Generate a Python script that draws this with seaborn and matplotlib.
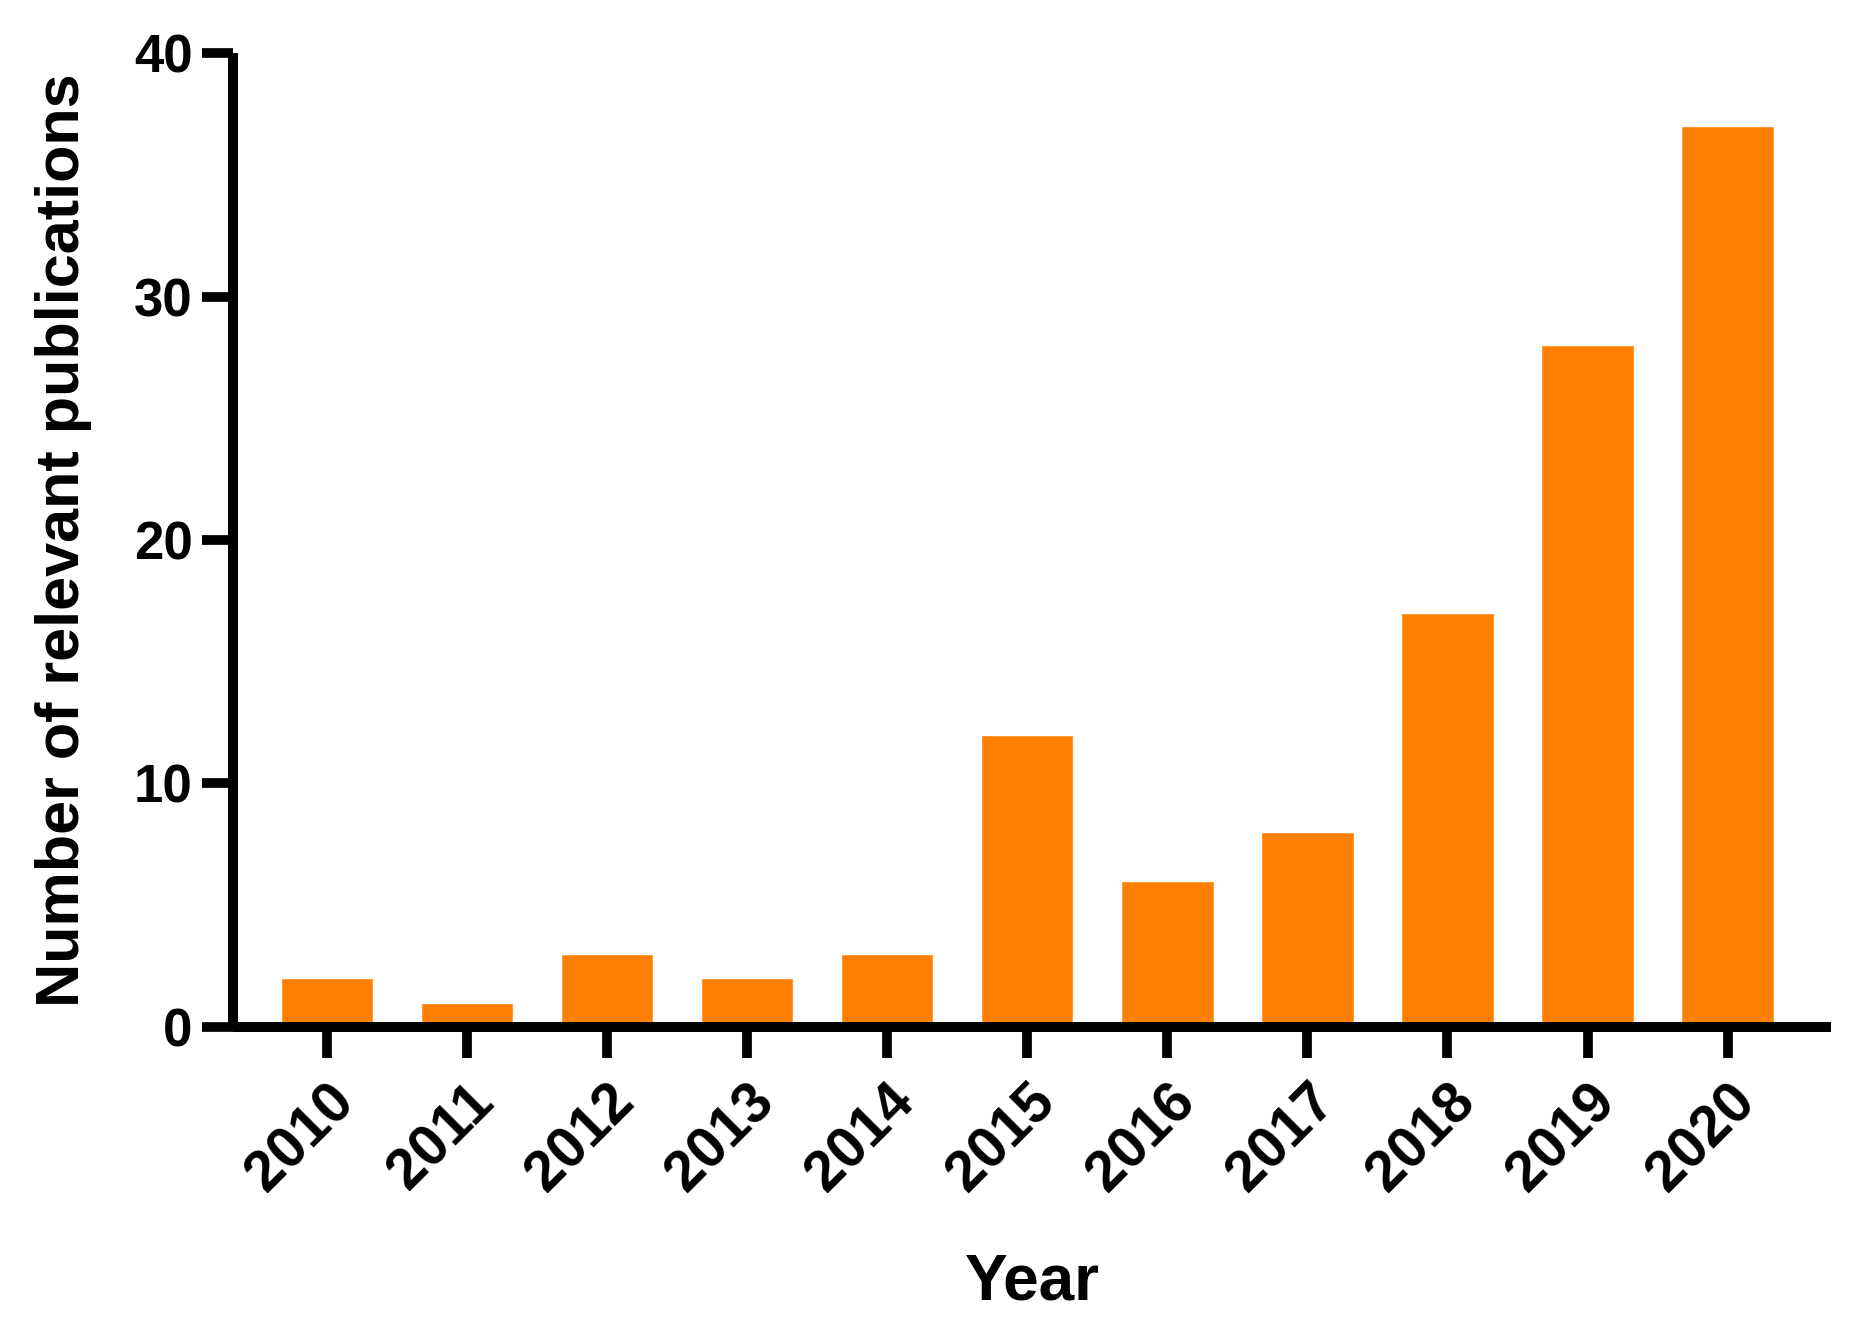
import matplotlib
matplotlib.use("Agg")
import matplotlib.pyplot as plt
import seaborn as sns
import pandas as pd

# publication counts per year
years = ["2010", "2011", "2012", "2013", "2014", "2015",
         "2016", "2017", "2018", "2019", "2020"]
counts = [2, 1, 3, 2, 3, 12, 6, 8, 17, 28, 37]
y_ticks = [0, 10, 20, 30, 40]

sns.set_style("white")
plt.rcParams['font.family'] = ['Liberation Sans', 'DejaVu Sans']
plt.rcParams['font.weight'] = 'bold'
plt.rcParams['text.color'] = 'black'
plt.rcParams['axes.labelcolor'] = 'black'
plt.rcParams['xtick.color'] = 'black'
plt.rcParams['ytick.color'] = 'black'

df = pd.DataFrame({"Year": years, "Count": counts})

fig = plt.figure(figsize=(18.63, 13.33), dpi=100)
ax = fig.add_axes([0.125, 0.2296, 0.858, 0.7306])

sns.barplot(data=df, x="Year", y="Count", color="#FF8000",
            saturation=1, width=0.66, ax=ax)

ax.set_xlim(-0.67, 10.74)
ax.set_ylim(0, 40)
ax.set_yticks(y_ticks)

for s in ["top", "right"]:
    ax.spines[s].set_visible(False)
for s in ["left", "bottom"]:
    ax.spines[s].set_linewidth(7.2)
    ax.spines[s].set_color("black")
    ax.spines[s].set_capstyle("butt")

ax.tick_params(axis="both", which="major", direction="out", length=22,
               width=7, colors="black", labelsize=38, pad=7,
               bottom=True, left=True)
ax.tick_params(axis="x", labelsize=41, pad=12)
plt.setp(ax.get_xticklabels(), rotation=45, ha="right",
         rotation_mode="anchor", fontweight="bold")
plt.setp(ax.get_yticklabels(), fontweight="bold")

ax.set_xlabel("Year", fontsize=46, fontweight="bold", va="top")
ax.set_ylabel("Number of relevant publications", fontsize=44, fontweight="bold")
ax.xaxis.set_label_coords(0.5, -0.232)
ax.yaxis.set_label_coords(-0.088, 0.5)

fig.savefig("out.png", dpi=100, facecolor="white")
